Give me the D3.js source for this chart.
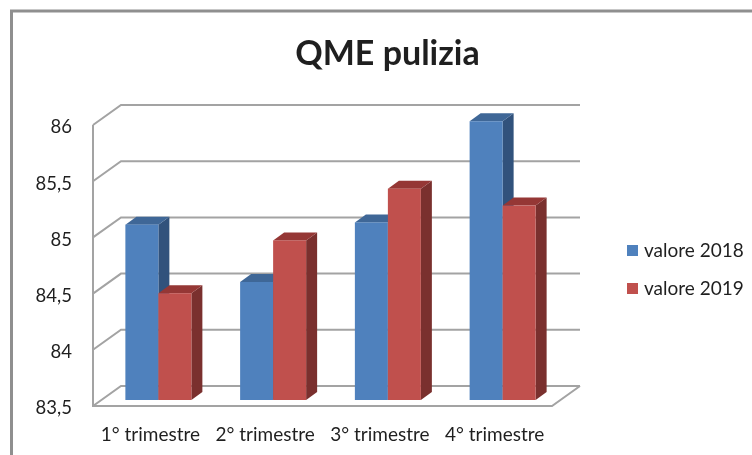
<!DOCTYPE html>
<html>
<head>
<meta charset="utf-8">
<script src="https://cdn.jsdelivr.net/npm/d3@7"></script>
<style>
html,body{margin:0;padding:0;background:#fff;overflow:hidden}
svg{display:block;filter:blur(0.4px)}
text{font-family:Lato,"Open Sans",sans-serif;fill:#1f1f1f}
</style>
</head>
<body>
<svg id="c" width="752" height="455"></svg>
<script>
const titleText = "QME pulizia";
const categories = ["1° trimestre","2° trimestre","3° trimestre","4° trimestre"];
const seriesNames = ["valore 2018","valore 2019"];
const values2018 = [85.06,84.55,85.08,85.98];
const values2019 = [84.45,84.92,85.38,85.23];
const tickValues = [83.5,84,84.5,85,85.5,86];
const colors = {front:["#4f81bd","#c0504d"],top:["#3f6797","#953735"],side:["#31527c","#7a302e"]};

const svg = d3.select("#c");
const wall = {x0:93,x1:552,y0:406,y1:125,dx:28,dy:-20};
const barDepth = {dx:11,dy:-8,lift:6,shift:8};
const grid = "#a3a3a3";

// chart frame
svg.append("path").attr("d","M11.5,455V11H752").attr("fill","none").attr("stroke","#8f8f8f").attr("stroke-width",3);

const y = d3.scaleLinear().domain([83.5,86]).range([wall.y0,wall.y1]);
const x = d3.scaleBand().domain(categories).range([wall.x0,wall.x1]);
const inner = d3.scaleBand().domain(seriesNames).range([0,66]);

// gridlines on back and left walls
const g = svg.append("g").attr("fill","none").attr("stroke",grid).attr("stroke-width",2);
tickValues.forEach(t=>{
  const yy=y(t);
  g.append("path").attr("d",`M${wall.x0},${yy}L${wall.x0+wall.dx},${yy+wall.dy}H${wall.x1+wall.dx}`);
});
g.append("path").attr("d",`M${wall.x0},${y(86)}V${wall.y0}H${wall.x1}L${wall.x1+wall.dx},${wall.y0+wall.dy}`);

// bars
const series = [values2018,values2019];
categories.forEach((cat,i)=>{
  const gx = x(cat)+(x.bandwidth()-66)/2+barDepth.shift;
  seriesNames.forEach((name,s)=>{
    const v = series[s][i];
    const bx = gx+inner(name), bw = inner.bandwidth();
    const top = y(v)-barDepth.lift, bot = y(83.5)-barDepth.lift;
    const d = barDepth;
    svg.append("path").attr("fill",colors.side[s])
      .attr("d",`M${bx+bw},${top}l${d.dx},${d.dy}V${bot+d.dy}l${-d.dx},${-d.dy}Z`);
    svg.append("path").attr("fill",colors.top[s])
      .attr("d",`M${bx},${top}l${d.dx},${d.dy}h${bw}l${-d.dx},${-d.dy}Z`);
    svg.append("rect").attr("x",bx).attr("y",top).attr("width",bw).attr("height",bot-top).attr("fill",colors.front[s]);
  });
});

// axes
const yAxis = d3.axisLeft(y).tickValues(tickValues).tickSize(0).tickPadding(0)
  .tickFormat(d=>String(d).replace(".",","));
const ya = svg.append("g").attr("transform","translate(72,2)").call(yAxis);
ya.select(".domain").remove();
ya.selectAll("text").style("font-size","18.5px");

const xa = svg.append("g").attr("transform","translate(0,427)")
  .call(d3.axisBottom(x).tickSize(0).tickPadding(0));
xa.select(".domain").remove();
xa.selectAll("text").style("font-size","19px").attr("dy","0.71em");

// title
svg.append("text").attr("x",387.5).attr("y",65).attr("text-anchor","middle")
  .style("font-size","34px").style("font-weight","700").text(titleText);

// legend
const ly = d3.scalePoint().domain(seriesNames).range([250.5,288.5]);
seriesNames.forEach((name,s)=>{
  svg.append("rect").attr("x",627).attr("y",ly(name)-5.5).attr("width",11).attr("height",11).attr("fill",colors.front[s]);
  svg.append("text").attr("x",644).attr("y",ly(name)).attr("dy","0.35em").style("font-size","19px").text(name);
});
</script>
</body>
</html>
